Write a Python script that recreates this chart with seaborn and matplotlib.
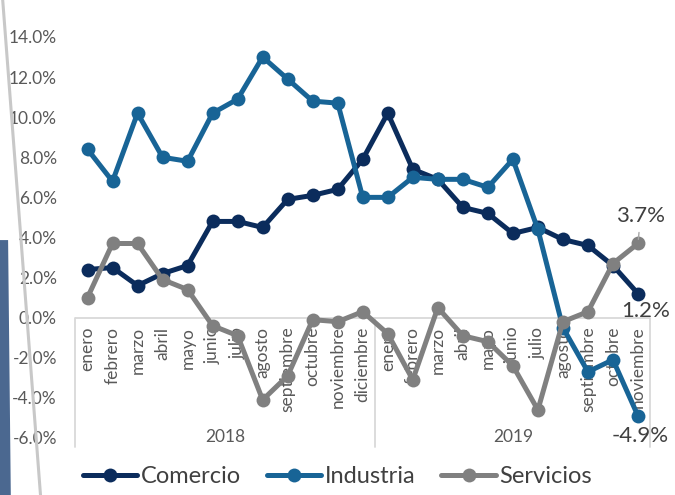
import matplotlib
matplotlib.use("Agg")
import matplotlib.pyplot as plt
import numpy as np
import pandas as pd
import seaborn as sns
from matplotlib.lines import Line2D
from matplotlib.patches import Polygon

sns.set_theme(style="white")
plt.rcParams["font.family"] = ["Lato", "DejaVu Sans"]

# Monthly growth rates (%), enero 2018 .. noviembre 2019
years = ["2018", "2019"]
months_2018 = ["enero", "febrero", "marzo", "abril", "mayo", "junio", "julio",
               "agosto", "septiembre", "octubre", "noviembre", "diciembre"]
months_2019 = ["enero", "febrero", "marzo", "abril", "mayo", "junio", "julio",
               "agosto", "septiembre", "octubre", "noviembre"]
comercio = [2.4, 2.5, 1.6, 2.2, 2.6, 4.8, 4.8, 4.5, 5.9, 6.1, 6.4, 7.9,
            10.2, 7.4, 6.9, 5.5, 5.2, 4.2, 4.5, 3.9, 3.6, 2.6, 1.2]
industria = [8.4, 6.8, 10.2, 8.0, 7.8, 10.2, 10.9, 13.0, 11.9, 10.8, 10.7, 6.0,
             6.0, 7.0, 6.9, 6.9, 6.5, 7.9, 4.4, -0.5, -2.7, -2.1, -4.9]
servicios = [1.0, 3.7, 3.7, 1.9, 1.4, -0.4, -0.9, -4.1, -2.9, -0.1, -0.2, 0.3,
             -0.8, -3.1, 0.5, -0.9, -1.2, -2.4, -4.6, -0.2, 0.3, 2.7, 3.7]

series = ["Comercio", "Industria", "Servicios"]
colors = ["#0b2c5c", "#186496", "#808080"]

months = months_2018 + months_2019
n = len(months)
df = pd.DataFrame({
    "idx": np.tile(np.arange(n), 3),
    "valor": comercio + industria + servicios,
    "serie": np.repeat(series, n),
})

fig = plt.figure(figsize=(6.75, 4.95), dpi=100)
ax = fig.add_axes([0.1111, 0.1152, 0.8526, 0.8101])

sns.lineplot(data=df, x="idx", y="valor", hue="serie", palette=colors,
             marker="o", markersize=10, markeredgewidth=0, linewidth=3.6,
             legend=False, ax=ax)

ax.set_xlim(-0.5, n - 0.5)
ax.set_ylim(-6, 14)
ax.set_yticks(np.arange(-6, 15, 2))
ax.set_yticklabels([f"{v:.1f}%" for v in np.arange(-6, 15, 2)])
ax.tick_params(axis="y", length=0, pad=13, labelsize=12.5, labelcolor="#595959")
ax.set_xticks([])
ax.set_xlabel("")
ax.set_ylabel("")
for s in ax.spines.values():
    s.set_visible(False)

# category box: zero line + year separators
grid_c = "#d9d9d9"
ax.axhline(0, color=grid_c, lw=1.3, zorder=0)
for xv in [-0.5, len(months_2018) - 0.5, n - 0.5]:
    ax.plot([xv, xv], [0, -6.45], color=grid_c, lw=1.3, clip_on=False, zorder=0)

for i, m in enumerate(months):
    ax.text(i, -0.45, m, rotation=90, ha="center", va="top",
            fontsize=12.5, color="#595959", zorder=1)
ax.text((len(months_2018) - 1) / 2, -5.95, years[0], ha="center", va="center",
        fontsize=12.5, color="#595959")
ax.text(len(months_2018) + (len(months_2019) - 1) / 2, -5.95, years[1],
        ha="center", va="center", fontsize=12.5, color="#595959")

# end-point labels
lab_c = "#404040"
ax.annotate(f"{servicios[-1]:.1f}%", xy=(n - 1, servicios[-1]),
            xytext=(n - 0.9, servicios[-1] + 1.35), ha="center", va="center",
            fontsize=16, color=lab_c,
            arrowprops=dict(arrowstyle="-", color="#a6a6a6", lw=1,
                            shrinkA=2, shrinkB=3))
ax.text(n - 0.68, comercio[-1] - 0.85, f"{comercio[-1]:.1f}%", ha="center",
        va="center", fontsize=16, color=lab_c)
ax.text(n - 0.9, industria[-1] - 1.0, f"{industria[-1]:.1f}%", ha="center",
        va="center", fontsize=16, color=lab_c)

handles = [Line2D([0], [0], color=c, lw=3.6, marker="o", markersize=10,
                  markeredgewidth=0) for c in colors]
fig.legend(handles, series, loc="lower center", bbox_to_anchor=(0.5, -0.012),
           ncol=3, frameon=False, fontsize=17, handlelength=2.3,
           handletextpad=0.15, columnspacing=1.1, labelcolor="#404040",
           borderpad=0.1)

# slide decorations on the left edge
fig.add_artist(Polygon([[0, 0], [0.016, 0], [0.012, 0.515], [0, 0.515]],
                       closed=True, transform=fig.transFigure,
                       facecolor="#4b6890", edgecolor="none"))
fig.add_artist(Line2D([0.004, 0.06], [1.0, 0.0], transform=fig.transFigure,
                      color="#c8c8c8", lw=2.2))

fig.savefig("out.png", dpi=100)
